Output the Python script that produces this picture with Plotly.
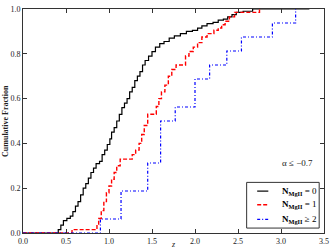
import plotly.graph_objects as go

# N_MgII = 0 (step ECDF points)
z_n0 = [0.00, 0.40, 0.41, 0.44, 0.47, 0.51, 0.55, 0.58, 0.61, 0.64, 0.67, 0.70, 0.73, 0.76, 0.79,
        0.82, 0.85, 0.89, 0.92, 0.95, 0.98, 1.01, 1.03, 1.06, 1.09, 1.12, 1.15, 1.18, 1.21, 1.24,
        1.27, 1.30, 1.33, 1.36, 1.39, 1.42, 1.46, 1.50, 1.54, 1.59, 1.64, 1.70, 1.76, 1.83, 1.90,
        1.97, 2.03, 2.08, 2.14, 2.21, 2.27, 2.33, 2.38, 2.43, 2.48, 2.56, 2.67, 3.33]
f_n0 = [0.0, 0.0, 0.015, 0.035, 0.055, 0.065, 0.075, 0.095, 0.12, 0.14, 0.17, 0.20, 0.22, 0.245, 0.27,
        0.29, 0.31, 0.32, 0.35, 0.37, 0.395, 0.42, 0.45, 0.47, 0.50, 0.53, 0.56, 0.58, 0.60, 0.63,
        0.65, 0.68, 0.70, 0.72, 0.75, 0.77, 0.79, 0.81, 0.83, 0.845, 0.855, 0.87, 0.88, 0.89, 0.90,
        0.905, 0.915, 0.925, 0.935, 0.94, 0.95, 0.955, 0.965, 0.975, 0.985, 0.99, 1.0, 1.0]

# N_MgII = 1
z_n1 = [0.00, 0.57, 0.86, 0.88, 0.91, 0.94, 0.97, 1.00, 1.03, 1.06, 1.09, 1.13, 1.27, 1.31, 1.35,
        1.38, 1.41, 1.45, 1.55, 1.58, 1.61, 1.65, 1.69, 1.73, 1.78, 1.89, 1.93, 1.98, 2.03, 2.08,
        2.14, 2.22, 2.27, 2.31, 2.35, 2.40, 2.46, 2.75]
f_n1 = [0.0, 0.015, 0.04, 0.065, 0.10, 0.14, 0.18, 0.21, 0.24, 0.27, 0.30, 0.33, 0.35, 0.37, 0.40,
        0.44, 0.48, 0.53, 0.565, 0.60, 0.63, 0.66, 0.70, 0.73, 0.75, 0.79, 0.81, 0.83, 0.85, 0.875,
        0.89, 0.905, 0.915, 0.93, 0.945, 0.965, 0.985, 1.0]

# N_MgII >= 2
z_n2 = [0.00, 0.90, 1.14, 1.45, 1.60, 1.77, 2.00, 2.17, 2.37, 2.54, 2.90, 3.17]
f_n2 = [0.0, 0.0625, 0.1875, 0.3125, 0.5, 0.5625, 0.6875, 0.75, 0.8125, 0.875, 0.9375, 1.0]

series_names = ["<b>N<sub>MgII</sub></b> = 0", "<b>N<sub>MgII</sub></b> = 1", "<b>N<sub>MgII</sub></b> ≥ 2"]
x_ticks = [0.0, 0.5, 1.0, 1.5, 2.0, 2.5, 3.0, 3.5]
y_ticks = [0.0, 0.2, 0.4, 0.6, 0.8, 1.0]

FONT = "Liberation Serif"
TXT = "#222"

styles = [dict(color="black", width=1.2),
          dict(color="red", width=1.4, dash="4px,2px"),
          dict(color="blue", width=1.2, dash="3px,2px,1px,2px")]

fig = go.Figure()
for (zx, fy), name, st in zip([(z_n0, f_n0), (z_n1, f_n1), (z_n2, f_n2)], series_names, styles):
    fig.add_trace(go.Scatter(x=zx, y=fy, mode="lines", line=dict(shape="hv", **st), name=name,
                             showlegend=False))

axis_common = dict(showgrid=False, zeroline=False, showline=True, linecolor="#333", linewidth=1,
                   mirror="ticks", ticks="inside", ticklen=4, tickcolor="#333",
                   tickfont=dict(family=FONT, size=8, color=TXT))
fig.update_xaxes(range=[0, 3.5], tickvals=x_ticks, ticktext=[f"{v:.1f}" for v in x_ticks], **axis_common)
fig.update_yaxes(range=[0, 1.0], tickvals=y_ticks, ticktext=[f"{v:.1f}" for v in y_ticks], **axis_common)

fig.add_annotation(x=0.5, y=-0.052, xref="paper", yref="paper", text="<i>z</i>", showarrow=False,
                   xanchor="center", yanchor="middle", font=dict(family=FONT, size=8, color=TXT))
fig.add_annotation(x=-0.060, y=0.5, xref="paper", yref="paper", text="<b>Cumulative Fraction</b>",
                   showarrow=False, textangle=-90, xanchor="center", yanchor="middle",
                   font=dict(family=FONT, size=8, color=TXT))
fig.add_annotation(x=0.970, y=0.313, xref="paper", yref="paper", text="α ≤ −0.7", showarrow=False,
                   xanchor="right", yanchor="middle", font=dict(family=FONT, size=9, color=TXT))

# legend box (drawn in paper coordinates)
fig.add_shape(type="rect", xref="paper", yref="paper", x0=0.743, x1=0.984, y0=0.022, y1=0.226,
              line=dict(color="#333", width=1), fillcolor="white", layer="above")
row_y = [0.187, 0.126, 0.061]
for yy, name, st in zip(row_y, series_names, styles):
    fig.add_shape(type="line", xref="paper", yref="paper", x0=0.778, x1=0.815, y0=yy, y1=yy,
                  line=st, layer="above")
    fig.add_annotation(x=0.855, y=yy, xref="paper", yref="paper", text=name, showarrow=False,
                       xanchor="left", yanchor="middle", font=dict(family=FONT, size=9, color="black"))

fig.update_layout(
    width=334, height=251,
    margin=dict(l=23, r=7, t=5, b=16),
    plot_bgcolor="white", paper_bgcolor="white",
    showlegend=False,
)

fig.write_html("out.html", config={"displayModeBar": False},
               post_script="document.body.style.margin='0';document.body.style.overflow='hidden';")
